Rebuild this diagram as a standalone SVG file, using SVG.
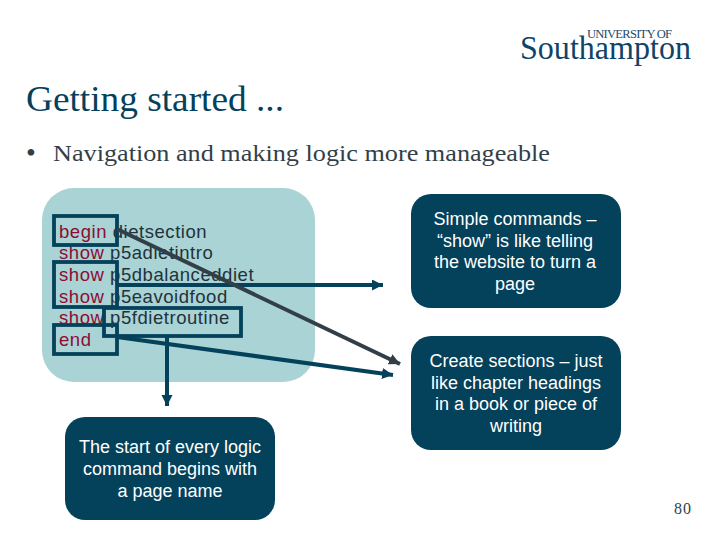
<svg xmlns="http://www.w3.org/2000/svg" width="720" height="540" viewBox="0 0 720 540">
<style>
.b{fill:#04415a}
.t{font:18px "Liberation Sans",Arial,sans-serif;fill:#fff;text-anchor:middle}
.c{font:18.5px "Liberation Sans",Arial,sans-serif;fill:#22323a;letter-spacing:.55px}
.k{fill:#8e0b33}
.r{fill:none;stroke:#04415a;stroke-width:3.8}
.l{fill:none;stroke:#04415a;stroke-width:4}
</style>
<defs>
<marker id="a" markerUnits="userSpaceOnUse" markerWidth="12" markerHeight="12" refX="11" refY="5.5" orient="auto"><path d="M0 0L11 5.5L0 11z" fill="#04415a"/></marker>
<marker id="g" markerUnits="userSpaceOnUse" markerWidth="12" markerHeight="12" refX="11" refY="5.5" orient="auto"><path d="M0 0L11 5.5L0 11z" fill="#333f48"/></marker>
</defs>
<rect width="720" height="540" fill="#fff"/>
<g id="logo">
<text x="587" y="37.5" font-family="Liberation Serif,serif" font-size="12.5" fill="#1c4a68" textLength="85">UNIVERSITY OF</text>
<text x="520" y="59" font-family="Liberation Serif,serif" font-size="33.5" fill="#0f4468" textLength="171" lengthAdjust="spacingAndGlyphs">Southampton</text>
</g>
<text id="title" x="26" y="111" font-family="Liberation Serif,serif" font-size="35" fill="#04415a" textLength="258" lengthAdjust="spacingAndGlyphs">Getting started ...</text>
<g id="bullet" font-family="Liberation Serif,serif" font-size="24" fill="#333f48">
<text x="26" y="162" font-size="28">•</text>
<text x="53" y="161" textLength="497" lengthAdjust="spacingAndGlyphs">Navigation and making logic more manageable</text>
</g>
<g id="code">
<rect x="42" y="188" width="273" height="194" rx="32" fill="#a9d3d5"/>
<text class="c" x="59" y="238"><tspan class="k">begin</tspan> dietsection</text>
<text class="c" x="59" y="259"><tspan class="k">show</tspan> p5adietintro</text>
<text class="c" x="59" y="281"><tspan class="k">show</tspan> p5dbalanceddiet</text>
<text class="c" x="59" y="303"><tspan class="k">show</tspan> p5eavoidfood</text>
<text class="c" x="59" y="324"><tspan class="k">show</tspan> p5fdietroutine</text>
<text class="c k" x="59" y="346">end</text>
</g>
<g id="highlights">
<rect class="r" x="54" y="216" width="63" height="29"/>
<rect class="r" x="54" y="262" width="63" height="45"/>
<rect class="r" x="104" y="308" width="137" height="28"/>
<rect class="r" x="54" y="325" width="63" height="29"/>
</g>
<g id="connectors">
<path class="l" d="M117 285H383" marker-end="url(#a)"/>
<path d="M117 229L400 364" fill="none" stroke="#333f48" stroke-width="4" marker-end="url(#g)"/>
<path class="l" d="M117 337L393 375" marker-end="url(#a)"/>
<path class="l" d="M167 336V406" marker-end="url(#a)"/>
</g>
<g id="note-turn-page">
<rect class="b" x="411" y="194" width="210" height="114" rx="20"/>
<text class="t" x="515" y="225">Simple commands –</text>
<text class="t" x="515" y="247">“show” is like telling</text>
<text class="t" x="515" y="268">the website to turn a</text>
<text class="t" x="515" y="290">page</text>
</g>
<g id="note-sections">
<rect class="b" x="411" y="336" width="210" height="114" rx="20"/>
<text class="t" x="516" y="367">Create sections – just</text>
<text class="t" x="516" y="389">like chapter headings</text>
<text class="t" x="516" y="410">in a book or piece of</text>
<text class="t" x="516" y="432">writing</text>
</g>
<g id="note-page-name">
<rect class="b" x="65" y="417" width="210" height="103" rx="20"/>
<text class="t" x="170" y="453">The start of every logic</text>
<text class="t" x="170" y="475">command begins with</text>
<text class="t" x="170" y="497">a page name</text>
</g>
<text id="page" x="674" y="514" font-family="Liberation Serif,serif" font-size="16" fill="#333f48" textLength="17">80</text>
</svg>
